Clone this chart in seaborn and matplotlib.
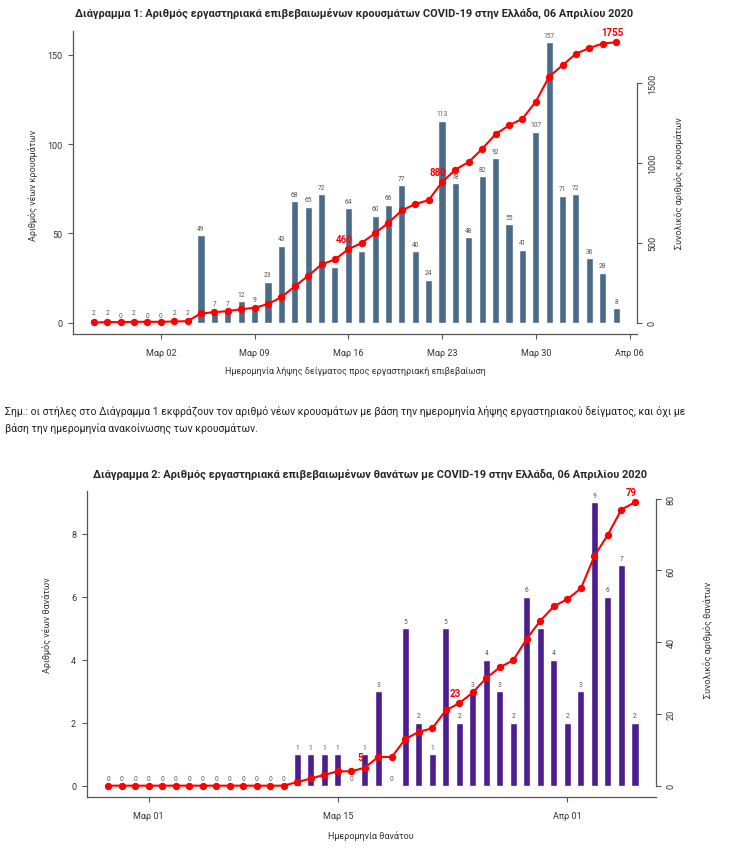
"""Διαγράμματα κρουσμάτων και θανάτων COVID-19 στην Ελλάδα (06/04/2020)."""

import matplotlib
matplotlib.use("Agg")
import matplotlib.pyplot as plt
import numpy as np
import pandas as pd
import seaborn as sns

sns.set_style("ticks")
plt.rcParams["font.family"] = ["Roboto", "DejaVu Sans"]

# --------------------------------------------------------------------------- #
# Δεδομένα
# --------------------------------------------------------------------------- #
# Διάγραμμα 1: νέα κρούσματα ανά ημερομηνία λήψης δείγματος (26/2 - 5/4)
START_1 = "2020-02-26"
cases_new = [2, 2, 0, 2, 0, 0, 2, 2, 49, 7, 7, 12, 9, 23, 43, 68, 65, 72, 31, 64,
             40, 60, 66, 77, 40, 24, 113, 78, 48, 82, 92, 55, 41, 107, 157, 71,
             72, 36, 28, 8]
cases_total = [2, 4, 4, 6, 6, 6, 8, 10, 59, 66, 73, 85, 94, 117, 160, 228, 293,
               365, 396, 460, 500, 560, 626, 703, 743, 767, 880, 958, 1006, 1088,
               1180, 1235, 1276, 1383, 1540, 1611, 1683, 1719, 1747, 1755]
cases_marked = ["2020-03-16", "2020-03-23", "2020-04-05"]
cases_ticks = ["2020-03-02", "2020-03-09", "2020-03-16", "2020-03-23",
               "2020-03-30", "2020-04-06"]
cases_ticklabels = ["Μαρ 02", "Μαρ 09", "Μαρ 16", "Μαρ 23", "Μαρ 30", "Απρ 06"]

# Διάγραμμα 2: νέοι θάνατοι ανά ημερομηνία θανάτου (27/2 - 6/4)
START_2 = "2020-02-27"
deaths_new = [0, 0, 0, 0, 0, 0, 0, 0, 0, 0, 0, 0, 0, 0, 1, 1, 1, 1, 0, 1, 3, 0,
              5, 2, 1, 5, 2, 3, 4, 3, 2, 6, 5, 4, 2, 3, 9, 6, 7, 2]
deaths_total = [0, 0, 0, 0, 0, 0, 0, 0, 0, 0, 0, 0, 0, 0, 1, 2, 3, 4, 4, 5, 8, 8,
                13, 15, 16, 21, 23, 26, 30, 33, 35, 41, 46, 50, 52, 55, 64, 70,
                77, 79]
deaths_marked = ["2020-03-17", "2020-03-24", "2020-04-06"]
deaths_ticks = ["2020-03-01", "2020-03-15", "2020-04-01"]
deaths_ticklabels = ["Μαρ 01", "Μαρ 15", "Απρ 01"]

W, H = 733, 862
AXIS_GREY = "#555555"
TEXT_GREY = "#333333"


def box(left, top, right, bottom):
    """Θέση άξονα σε pixels -> συντεταγμένες figure."""
    return [left / W, 1 - bottom / H, (right - left) / W, (bottom - top) / H]


def day_index(start, dates):
    t0 = pd.Timestamp(start)
    return [(pd.Timestamp(d) - t0).days for d in dates]


def diagramma(fig, rect, start, new, total, marked, ticks, ticklabels,
              bar_color, left_ticks, right_ticks):
    x = np.arange(len(new))
    ax = fig.add_axes(rect)
    sns.barplot(x=x, y=new, native_scale=True, width=0.53, color=bar_color,
                saturation=1, errorbar=None, ax=ax)
    ax.bar_label(ax.containers[0], fmt="%d", fontsize=4.8, color="#555555",
                 padding=2.5)

    ax2 = ax.twinx()
    sns.lineplot(x=x, y=total, color="#ff0000", marker="o", markersize=5.3,
                 markeredgewidth=0, linewidth=1.5, ax=ax2)
    for i in day_index(start, marked):
        ax2.annotate(f"{total[i]}", (x[i], total[i]), xytext=(-3, 7.5),
                     textcoords="offset points", ha="center", va="center",
                     color="#ff0000", fontsize=7, fontweight="bold")

    n = len(new)
    ax.set_xlim(-0.04 * (n - 1), 1.04 * (n - 1))
    ax.set_ylim(-0.04 * max(new), 1.04 * max(new))
    ax2.set_ylim(-0.04 * max(total), 1.04 * max(total))

    ax.set_xticks(day_index(start, ticks))
    ax.set_xticklabels(ticklabels)
    ax.set_yticks(left_ticks)
    ax2.set_yticks(right_ticks)
    ax.set_xlabel("")
    ax.set_ylabel("")
    ax2.set_ylabel("")

    for a in (ax, ax2):
        for s in a.spines.values():
            s.set_color(AXIS_GREY)
            s.set_linewidth(0.9)
        a.spines["top"].set_visible(False)
    ax.spines["right"].set_visible(False)
    ax2.spines["left"].set_visible(False)
    ax2.spines["bottom"].set_visible(False)
    ax2.spines["right"].set_bounds(right_ticks[0], right_ticks[-1])

    ax.tick_params(axis="both", length=3.8, width=0.8, color=AXIS_GREY,
                   labelsize=6.5, labelcolor=TEXT_GREY)
    ax.tick_params(axis="x", pad=6)
    ax.tick_params(axis="y", pad=4)
    ax2.tick_params(axis="y", length=3.8, width=0.8, color=AXIS_GREY,
                    labelsize=6.5, labelcolor=TEXT_GREY, labelrotation=90,
                    pad=4)
    for lbl in ax2.get_yticklabels():
        lbl.set_verticalalignment("center")
    return ax, ax2


fig = plt.figure(figsize=(W / 100, H / 100), dpi=100)

# Διάγραμμα 1
diagramma(fig, box(73, 32, 637, 335), START_1, cases_new, cases_total,
          cases_marked, cases_ticks, cases_ticklabels, "#4a6b8a",
          [0, 50, 100, 150], [0, 500, 1000, 1500])
fig.text(354 / W, 1 - 13 / H,
         "Διάγραμμα 1: Αριθμός εργαστηριακά επιβεβαιωμένων κρουσμάτων "
         "COVID-19 στην Ελλάδα, 06 Απριλίου 2020",
         ha="center", va="center", fontsize=7.9, fontweight="bold")
fig.text(33 / W, 1 - 185 / H, "Αριθμός νέων κρουσμάτων", rotation=90,
         ha="center", va="center", fontsize=6.5, color=TEXT_GREY)
fig.text(679 / W, 1 - 183 / H, "Συνολικός αριθμός κρουσμάτων", rotation=90,
         ha="center", va="center", fontsize=6.5, color=TEXT_GREY)
fig.text(355 / W, 1 - 372 / H,
         "Ημερομηνία λήψης δείγματος προς εργαστηριακή επιβεβαίωση",
         ha="center", va="center", fontsize=6.5, color=TEXT_GREY)

# Σημείωση
fig.text(5 / W, 1 - 411 / H,
         "Σημ.: οι στήλες στο Διάγραμμα 1 εκφράζουν τον αριθμό νέων κρουσμάτων "
         "με βάση την ημερομηνία λήψης εργαστηριακού δείγματος, και όχι με",
         ha="left", va="center", fontsize=7.5, color="#222222")
fig.text(5 / W, 1 - 429 / H,
         "βάση την ημερομηνία ανακοίνωσης των κρουσμάτων.",
         ha="left", va="center", fontsize=7.5, color="#222222")

# Διάγραμμα 2
diagramma(fig, box(87, 492, 656, 798), START_2, deaths_new, deaths_total,
          deaths_marked, deaths_ticks, deaths_ticklabels, "#4c1d8f",
          [0, 2, 4, 6, 8], [0, 20, 40, 60, 80])
fig.text(370 / W, 1 - 474 / H,
         "Διάγραμμα 2: Αριθμός εργαστηριακά επιβεβαιωμένων θανάτων με "
         "COVID-19 στην Ελλάδα, 06 Απριλίου 2020",
         ha="center", va="center", fontsize=7.9, fontweight="bold")
fig.text(47 / W, 1 - 625 / H, "Αριθμός νέων θανάτων", rotation=90,
         ha="center", va="center", fontsize=6.5, color=TEXT_GREY)
fig.text(708 / W, 1 - 640 / H, "Συνολικός αριθμός θανάτων", rotation=90,
         ha="center", va="center", fontsize=6.5, color=TEXT_GREY)
fig.text(371 / W, 1 - 836 / H, "Ημερομηνία θανάτου",
         ha="center", va="center", fontsize=6.5, color=TEXT_GREY)

fig.savefig("out.png", dpi=100)
plt.close(fig)
